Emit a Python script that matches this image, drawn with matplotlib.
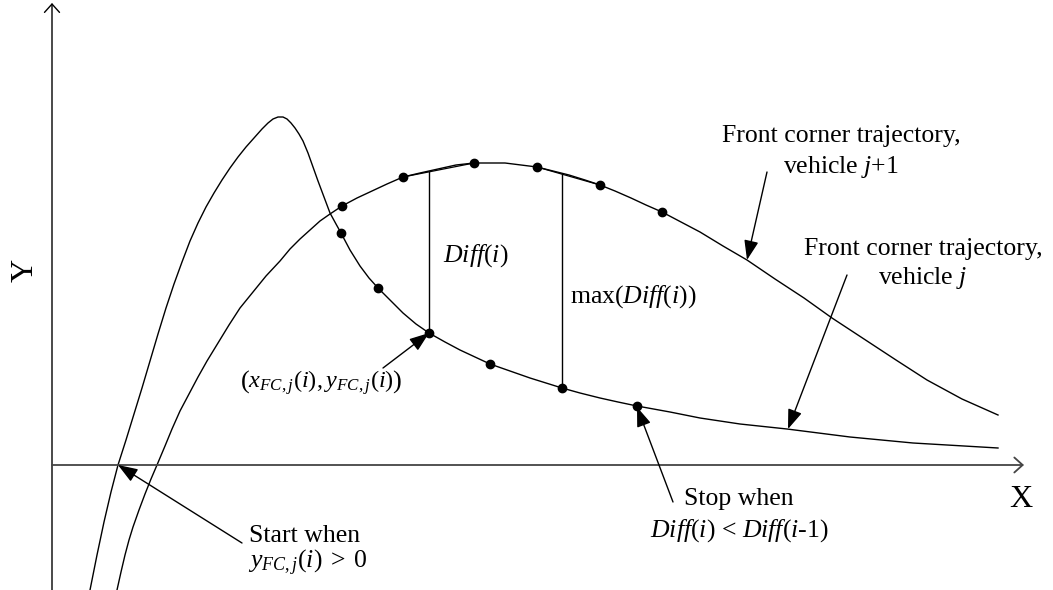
import matplotlib
matplotlib.use('Agg')
import matplotlib.pyplot as plt
import numpy as np

plt.rcParams['font.family'] = 'Liberation Serif'
plt.rcParams['mathtext.fontset'] = 'custom'
plt.rcParams['mathtext.rm'] = 'Liberation Serif'
plt.rcParams['mathtext.it'] = 'Liberation Serif:italic'

#----------- Trajectory data -----------#
#Front corner trajectory of vehicle j (overshoots, then settles)
xj = [38, 45, 52, 59, 66, 74, 82, 90, 98, 106, 114, 122, 130, 138, 146, 154,
      162, 170, 178, 186, 194, 202, 210, 216, 221, 226, 231, 235, 239, 243,
      247, 251, 256, 261, 266, 272, 278, 284, 289, 298, 308, 317, 326, 338,
      351, 364, 377, 393, 408, 423, 438, 458, 478, 494, 510, 528, 548, 566,
      585, 618, 648, 688, 735, 798, 861, 946]
yj = [-125, -90, -57, -27, 0, 25, 51, 77, 104, 131, 157, 181, 203, 224, 242,
      258, 272, 285, 297, 308, 318, 327, 336, 342, 346, 348, 348, 346, 342,
      337, 331, 324, 312, 298, 284, 268, 252, 241, 232, 215, 199, 187, 177,
      165, 152, 141, 132, 123, 115, 108, 101, 94, 87, 82, 77, 72, 67, 63, 59,
      53, 47, 41, 36, 28, 22, 17]

#Front corner trajectory of vehicle j+1
xj1 = [65, 69, 73, 77, 81, 87, 93, 99, 105, 113, 120, 128, 137, 146, 155,
       166, 177, 188, 201, 214, 228, 238, 248, 258, 268, 278, 290, 305, 320,
       335, 351, 368, 386, 404, 422, 438, 453, 469, 485, 501, 517, 533, 548,
       563, 579, 594, 610, 629, 648, 671, 695, 723, 752, 780, 812, 844, 875,
       910, 946]
yj1 = [-125, -107, -90, -75, -62, -45, -29, -14, 0, 19, 36, 54, 71, 88, 104,
       122, 140, 157, 173, 189, 204, 216, 226, 235, 244, 251, 259, 267, 274,
       281, 288, 292, 296, 300, 302, 302, 302, 300, 298, 294, 290, 285, 280,
       274, 267, 260, 253, 243, 233, 219, 205, 186, 167, 147, 126, 105, 85,
       66, 50]

#Sampled points i along each trajectory
pj_x = [289, 326, 377, 438, 510, 585]
pj_y = [232, 177, 132, 101, 77, 59]
pj1_x = [290, 351, 422, 485, 548, 610]
pj1_y = [259, 288, 302, 298, 280, 253]

#Diff(i) and max(Diff(i)) positions
diff_x = [377, 510]
diff_lo = [132, 77]

#-----------     Plot     -----------#
fig = plt.figure(figsize=(10.53, 5.90), dpi=100)
ax = fig.add_axes([0, 0, 1, 1])
ax.set_xlim(-52, 1001)
ax.set_ylim(-125, 465)
ax.axis('off')

#Axes with open arrow heads
ax.annotate('', xy=(0, 462), xytext=(0, -125),
            arrowprops=dict(arrowstyle='->,head_length=0.5,head_width=0.45',
                            lw=1.0, color='black', mutation_scale=12,
                            shrinkA=0, shrinkB=0))
ax.annotate('', xy=(972, 0), xytext=(0, 0),
            arrowprops=dict(arrowstyle='->,head_length=0.5,head_width=0.45',
                            lw=1.3, color='#444444', mutation_scale=12,
                            shrinkA=0, shrinkB=0))

#Trajectories
ax.plot(xj, yj, 'k-', lw=1.0)
ax.plot(xj1, yj1, 'k-', lw=1.0)

#Chords between neighbouring samples on j+1
ax.plot(pj1_x[1:3], pj1_y[1:3], 'k-', lw=0.9)
ax.plot(pj1_x[3:5], pj1_y[3:5], 'k-', lw=0.9)

#Vertical gaps up to the j+1 chords
for k, xv in enumerate(diff_x):
    i0 = 1 if k == 0 else 3
    ytop = np.interp(xv, pj1_x[i0:i0+2], pj1_y[i0:i0+2])
    ax.plot([xv, xv], [diff_lo[k], ytop], 'k-', lw=1.0)

ax.plot(pj_x, pj_y, 'ko', ms=6)
ax.plot(pj1_x, pj1_y, 'ko', ms=6)

#Labels
fs = 18.5
ax.text(-27, 195, 'Y', fontsize=23, rotation=90, ha='center', va='center')
ax.text(969, -42, 'X', fontsize=23, ha='center', va='baseline')

ax.text(789, 323, 'Front corner trajectory,', fontsize=fs, ha='center', va='baseline')
ax.text(789, 292, r'vehicle $j$+1', fontsize=fs, ha='center', va='baseline')
ax.text(871, 210, 'Front corner trajectory,', fontsize=fs, ha='center', va='baseline')
ax.text(871, 181, r'vehicle $j$', fontsize=fs, ha='center', va='baseline')

ax.text(391, 203, r'$Diff$($i$)', fontsize=fs, ha='left', va='baseline')
ax.text(518, 162, r'max($Diff$($i$))', fontsize=fs, ha='left', va='baseline')

ax.text(269, 77, r'$\left(x_{FC,j}(i),y_{FC,j}(i)\right)$', fontsize=17.5,
        ha='center', va='baseline')

ax.text(253, -77, 'Start when', fontsize=fs, ha='center', va='baseline')
ax.text(256, -103, r'$y_{FC,j}(i)\;>\;0$', fontsize=fs, ha='center', va='baseline')

ax.text(687, -40, 'Stop when', fontsize=fs, ha='center', va='baseline')
ax.text(687, -72, r'$Diff$($i$) < $Diff$($i$-1)', fontsize=fs, ha='center',
        va='baseline')

#Pointer arrows
arrow = dict(arrowstyle='-|>,head_length=0.6,head_width=0.22', lw=1.0,
             color='black', mutation_scale=20, shrinkA=0, shrinkB=0)
ax.annotate('', xy=(695, 205), xytext=(715, 293), arrowprops=arrow)
ax.annotate('', xy=(736, 36), xytext=(795, 190), arrowprops=arrow)
ax.annotate('', xy=(66, 0), xytext=(190, -78), arrowprops=arrow)
ax.annotate('', xy=(377, 132), xytext=(331, 97), arrowprops=arrow)
ax.annotate('', xy=(585, 58), xytext=(621, -37), arrowprops=arrow)

plt.savefig('out.png', dpi=100)
